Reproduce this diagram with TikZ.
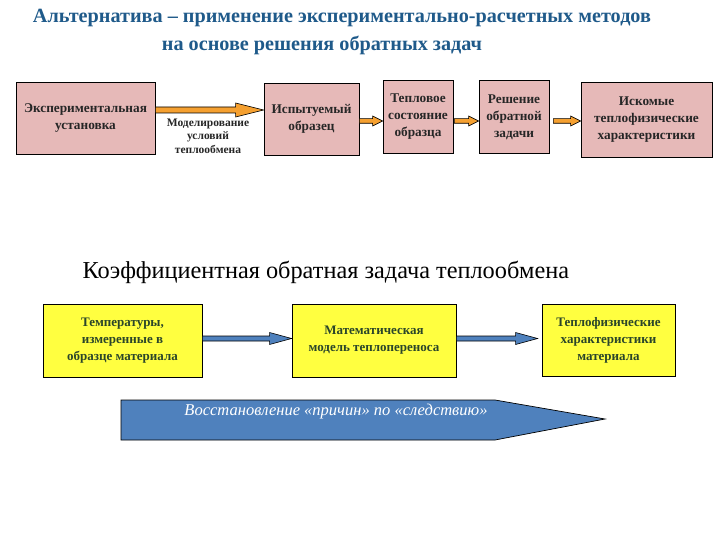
\documentclass[tikz,border=0pt]{standalone}
\usepackage{fontspec}
\setmainfont{Liberation Serif}
\usetikzlibrary{calc}
\definecolor{titleblue}{HTML}{1F5A8A}
\definecolor{pinkfill}{HTML}{E6B9B8}
\definecolor{yellowfill}{HTML}{FFFF40}
\definecolor{greentext}{HTML}{2A452A}
\definecolor{arrowblue}{HTML}{4F81BD}
\definecolor{arroworange}{HTML}{F5A030}
\newcommand{\blockarrow}[6]{% from, to, shaft half, head half, head length, fill
  \path let \p1=(#1), \p2=(#2) in
    [draw=black, line width=0.6pt, fill=#6]
    (\x1,\y1+#3) -- (\x2-#5,\y1+#3) -- (\x2-#5,\y1+#4) -- (\x2,\y1)
    -- (\x2-#5,\y1-#4) -- (\x2-#5,\y1-#3) -- (\x1,\y1-#3) -- cycle;}
\begin{document}
\begin{tikzpicture}[x=1pt,y=-1pt,
  pinkbox/.style={draw=black, line width=0.8pt, fill=pinkfill, align=center,
    inner sep=0pt, font=\bfseries\fontsize{13.3}{17}\selectfont, text=black!85},
  yellowbox/.style={draw=black, line width=0.8pt, fill=yellowfill, align=center,
    inner sep=0pt, font=\bfseries\fontsize{13}{17}\selectfont, text=greentext},
  titletext/.style={font=\bfseries\fontsize{20.2}{22}\selectfont, text=titleblue},
]
\useasboundingbox (0,0) rectangle (720,540);
% title
\node[titletext] (t1) at (342,18) {Альтернатива – применение экспериментально-расчетных методов};
\node[titletext] (t2) at (322,45) {на основе решения обратных задач};
% top row
\node[pinkbox, minimum width=139pt, minimum height=72pt] (b1) at (85.5,118.5) {Экспериментальная\\установка};
\node[pinkbox, minimum width=95pt, minimum height=72pt] (b2) at (311.5,119) {Испытуемый\\образец};
\node[pinkbox, minimum width=70pt, minimum height=73pt] (b3) at (418,117) {Тепловое\\состояние\\образца};
\node[pinkbox, minimum width=70pt, minimum height=73pt] (b4) at (514,117) {Решение\\обратной\\задачи};
\node[pinkbox, minimum width=131pt, minimum height=75pt] (b5) at (646.5,119.5) {Искомые\\теплофизические\\характеристики};
\coordinate (a1s) at (b1.east |- 0,110);
\coordinate (a1e) at (b2.west |- 0,110);
\blockarrow{a1s}{a1e}{3}{7}{28}{arroworange}
\node[font=\bfseries\fontsize{11.5}{13.5}\selectfont, align=center, text=black!85] (lab) at (208,136) {Моделирование\\условий\\теплообмена};
\coordinate (a2s) at (b2.east |- 0,121);
\coordinate (a2e) at (b3.west |- 0,121);
\blockarrow{a2s}{a2e}{2.3}{5}{10}{arroworange}
\coordinate (a3s) at ([xshift=1pt]b3.east |- 0,121);
\coordinate (a3e) at (b4.west |- 0,121);
\blockarrow{a3s}{a3e}{2.3}{5}{10}{arroworange}
\coordinate (a4s) at ([xshift=4pt]b4.east |- 0,121);
\coordinate (a4e) at (b5.west |- 0,121);
\blockarrow{a4s}{a4e}{2.3}{5}{10}{arroworange}
% heading
\node[font=\fontsize{24.3}{26}\selectfont, anchor=west] (h) at (79,272) {Коэффициентная обратная задача теплообмена};
% bottom row
\node[yellowbox, minimum width=159pt, minimum height=73pt] (y1) at (122.5,340.5) {Температуры,\\измеренные в\\образце материала};
\node[yellowbox, minimum width=164pt, minimum height=73pt] (y2) at (374,340.5) {Математическая\\модель теплопереноса};
\node[yellowbox, minimum width=133pt, minimum height=72pt] (y3) at (608.5,340) {Теплофизические\\характеристики\\материала};
\coordinate (c1s) at (y1.east |- 0,338.5);
\coordinate (c1e) at (y2.west |- 0,338.5);
\blockarrow{c1s}{c1e}{2.5}{6}{22}{arrowblue}
\coordinate (c2s) at (y2.east |- 0,338.5);
\coordinate (c2e) at ([xshift=-4pt]y3.west |- 0,338.5);
\blockarrow{c2s}{c2e}{2.5}{6}{22}{arrowblue}
% big arrow
\draw[line width=0.7pt, fill=arrowblue] (121,400) -- (495,400) -- (605,419) -- (495,440) -- (121,440) -- cycle;
\node[font=\itshape\fontsize{16.5}{18}\selectfont, text=white] (bt) at (336,412) {Восстановление «причин» по «следствию»};
\end{tikzpicture}
\end{document}
